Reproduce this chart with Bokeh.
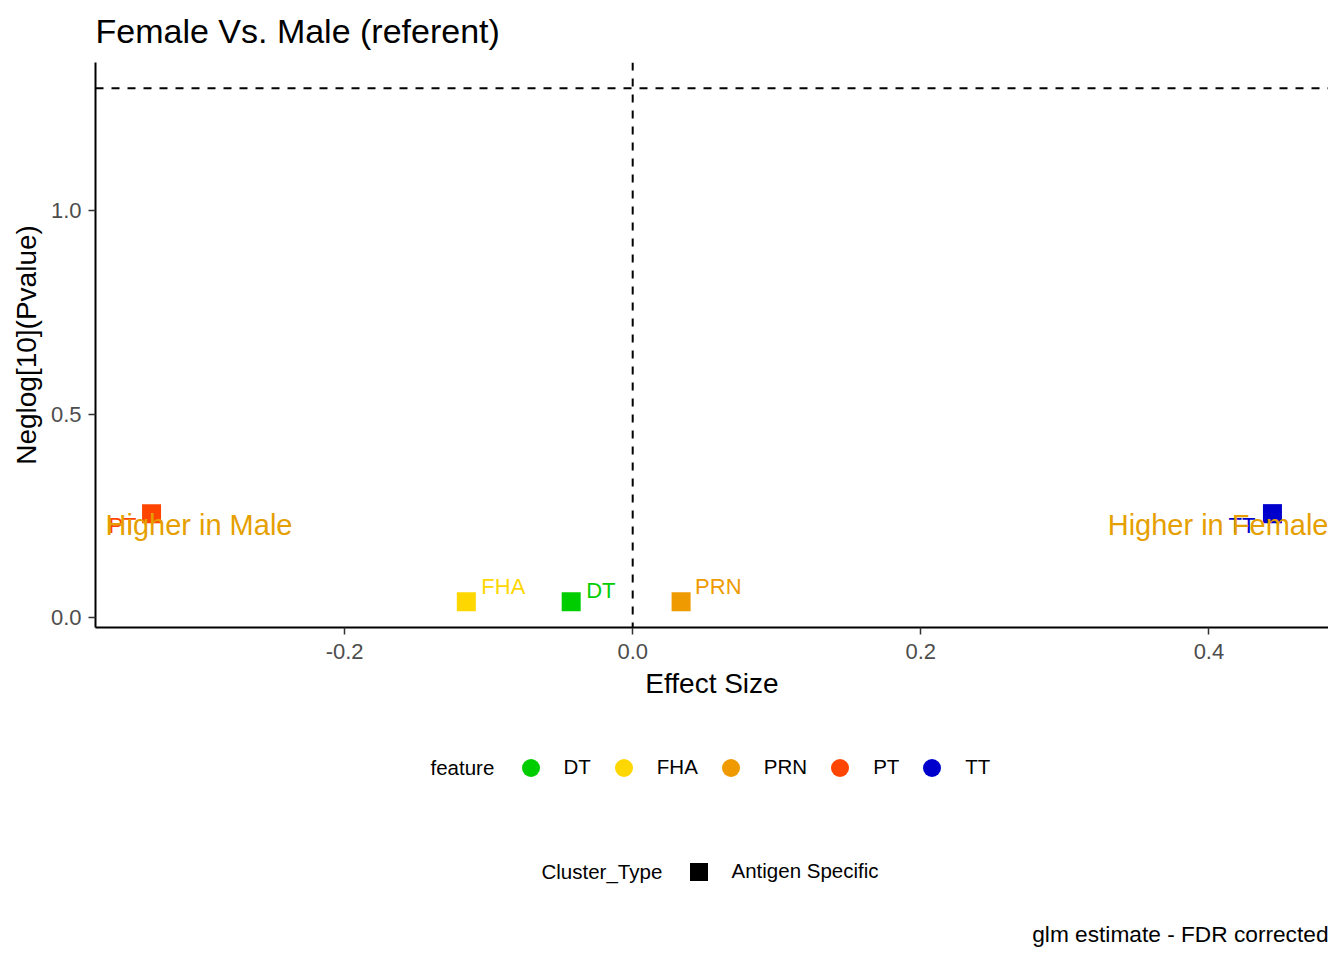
import math
from bokeh.plotting import figure
from bokeh.layouts import column
from bokeh.models import (ColumnDataSource, Range1d, Span, Label, Legend, LegendItem,
                          FixedTicker, NumeralTickFormatter)
from bokeh.core.properties import value
from bokeh.embed import file_html
from bokeh.resources import INLINE

FONT = "Liberation Sans"

# ---- data ----
features = ["DT", "FHA", "PRN", "PT", "TT"]
effect_size = [-0.0427, -0.1155, 0.0336, -0.334, 0.4441]
neglog_p = [0.0394, 0.0394, 0.0394, 0.256, 0.256]
feature_colors = ["#00CD00", "#FFD700", "#EE9A00", "#FF4500", "#0000CD"]
cluster_types = ["Antigen Specific"]
pvalue_cutoff = 0.05
x_ticks = [-0.2, 0.0, 0.2, 0.4]
y_ticks = [0.0, 0.5, 1.0]
annot_texts = ["Higher in Male", "Higher in Female"]
annot_y = 0.227
title_text = "Female Vs. Male (referent)"
caption_text = "glm estimate - FDR corrected"

# label nudges (screen px) and alignment, as ggrepel placed them
label_dx = [15, 15, 14, -15, -17]
label_dy = [-11, -15, -15, 12, 12]
label_align = ["left", "left", "left", "right", "right"]

threshold = -math.log10(pvalue_cutoff)

xmin, xmax = min(effect_size), max(effect_size)
xs = xmax - xmin
ys_all = neglog_p + [threshold]
ymin, ymax = min(ys_all), max(ys_all)
ysp = ymax - ymin

W = 1328
LEFT = 95
H_TOP = 62
H_MAIN = 648
H_LEG = 244


def blank_strip(h):
    f = figure(width=W, height=h, output_backend="svg", toolbar_location=None,
               x_range=Range1d(0, 1), y_range=Range1d(0, 1),
               min_border_left=LEFT, min_border_right=0, min_border_top=0,
               min_border_bottom=0)
    f.axis.visible = False
    f.grid.visible = False
    f.outline_line_color = None
    return f


# ---- title strip ----
t = blank_strip(H_TOP)
t.add_layout(Label(x=0, y=H_TOP - 30, x_units="screen", y_units="screen",
                   text=title_text, text_align="left", text_baseline="middle",
                   text_font=FONT, text_font_size="34px", text_color="black"))

# ---- main plot ----
p = figure(width=W, height=H_MAIN, output_backend="svg", toolbar_location=None,
           x_range=Range1d(xmin - 0.05 * xs, xmax + 0.05 * xs),
           y_range=Range1d(ymin - 0.05 * ysp, ymax + 0.05 * ysp),
           min_border_left=LEFT, min_border_right=0, min_border_top=0,
           min_border_bottom=83)

p.outline_line_color = None
p.xgrid.visible = False
p.ygrid.visible = False
p.background_fill_color = "white"

for ax in (p.xaxis[0], p.yaxis[0]):
    ax.axis_line_color = "black"
    ax.axis_line_width = 2
    ax.major_tick_line_color = "#333333"
    ax.major_tick_line_width = 1.5
    ax.major_tick_out = 7
    ax.major_tick_in = 0
    ax.minor_tick_line_color = None
    ax.major_label_text_font = FONT
    ax.major_label_text_font_size = "22px"
    ax.major_label_text_color = "#4D4D4D"
    ax.axis_label_text_font = FONT
    ax.axis_label_text_font_size = "28px"
    ax.axis_label_text_font_style = "normal"
    ax.axis_label_text_color = "black"
    ax.formatter = NumeralTickFormatter(format="0.0")

p.xaxis[0].major_label_standoff = 9
p.xaxis[0].axis_label_standoff = 6
p.yaxis[0].major_label_standoff = 7
p.yaxis[0].axis_label_standoff = 6

p.xaxis[0].ticker = FixedTicker(ticks=x_ticks)
p.yaxis[0].ticker = FixedTicker(ticks=y_ticks)
p.xaxis[0].axis_label = "Effect Size"
p.yaxis[0].axis_label = "Neglog[10](Pvalue)"

# reference lines
p.add_layout(Span(location=threshold, dimension="width", line_color="black",
                  line_width=2, line_dash="8 8"))
p.add_layout(Span(location=0, dimension="height", line_color="black",
                  line_width=2, line_dash="8 8"))

src = ColumnDataSource(dict(x=effect_size, y=neglog_p, feature=features,
                            color=feature_colors, dx=label_dx, dy=label_dy,
                            align=label_align))

p.scatter("x", "y", source=src, marker="square", size=19, fill_color="color",
          line_color=None)
p.text("x", "y", text="feature", source=src, text_color="color",
       x_offset="dx", y_offset="dy", text_align="align", text_baseline="middle",
       text_font=value(FONT), text_font_size="22px")

# annotations
annot_src = ColumnDataSource(dict(
    x=[p.x_range.start, p.x_range.end], y=[annot_y, annot_y], text=annot_texts,
    align=["left", "right"], dx=[10, 0]))
p.text("x", "y", text="text", source=annot_src, text_align="align", x_offset="dx",
       text_baseline="middle", text_color="#E69F00", text_font=value(FONT),
       text_font_size="29px")

# ---- legend / caption strip (frame aligned with main plot frame) ----
q = blank_strip(H_LEG)
TOP_Q = H_TOP + H_MAIN  # page y where this strip begins

NAN = float("nan")
feat_items = []
for f, c in zip(features, feature_colors):
    r = q.scatter(x=[NAN], y=[NAN], marker="circle", size=18, fill_color=c, line_color=None)
    feat_items.append(LegendItem(label=f, renderers=[r]))
sq = q.scatter(x=[NAN], y=[NAN], marker="square", size=18, fill_color="black", line_color=None)
clus_items = [LegendItem(label=cluster_types[0], renderers=[sq])]


def style_legend(lg):
    lg.orientation = "horizontal"
    lg.padding = 0
    lg.margin = 0
    lg.border_line_color = None
    lg.background_fill_alpha = 0
    lg.glyph_width = 45
    lg.glyph_height = 45
    lg.label_standoff = 11
    lg.spacing = 10
    lg.label_text_font = FONT
    lg.label_text_font_size = "20.5px"
    lg.label_text_color = "black"
    lg.click_policy = "none"


def sy(page_y):
    return H_LEG - (page_y - TOP_Q)


leg1 = Legend(items=feat_items, location=(507.5 - LEFT, sy(767 + 22.5)))
style_legend(leg1)
leg2 = Legend(items=clus_items, location=(675.5 - LEFT, sy(871 + 22.5)))
style_legend(leg2)
q.add_layout(leg1, "center")
q.add_layout(leg2, "center")

for txt, lx, ly in [("feature", 430 - LEFT, sy(767)),
                    ("Cluster_Type", 541 - LEFT, sy(871))]:
    q.add_layout(Label(x=lx, y=ly, x_units="screen", y_units="screen", text=txt,
                       text_align="left", text_baseline="middle", text_font=FONT,
                       text_font_size="20.5px", text_color="black"))

q.add_layout(Label(x=W - LEFT, y=sy(933), x_units="screen", y_units="screen",
                   text=caption_text, text_align="right",
                   text_baseline="middle", text_font=FONT, text_font_size="22.7px",
                   text_color="black"))

layout = column(t, p, q, spacing=0)
open("out.html", "w").write(file_html(layout, INLINE))
